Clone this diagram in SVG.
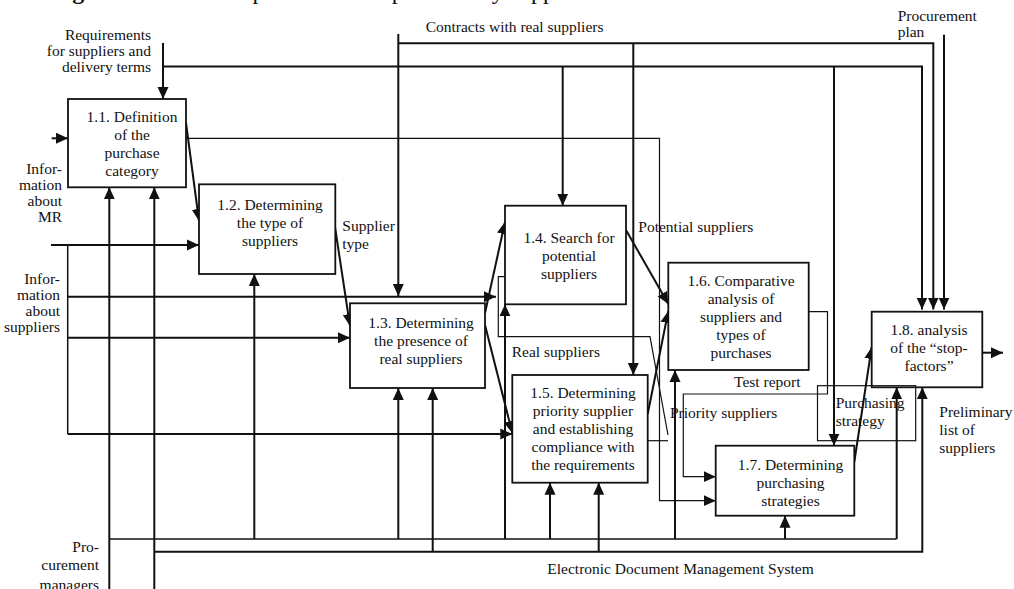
<svg xmlns="http://www.w3.org/2000/svg" width="1014" height="589" viewBox="0 0 1014 589">
  <style>
    text { font-family: "Liberation Serif", "Times New Roman", serif; font-size: 15.5px; fill: #111; }
    .mid { text-anchor: middle; }
    .end { text-anchor: end; }
    .box { fill: #fff; stroke: #111; stroke-width: 1.8; }
    .frame { fill: none; stroke: #111; stroke-width: 1.2; }
    .thick { fill: none; stroke: #111; stroke-width: 2; }
    .mid-w { fill: none; stroke: #111; stroke-width: 1.5; }
    .thin { fill: none; stroke: #111; stroke-width: 1.2; }
    .title { font-size: 24px; }
  </style>
  <defs>
    <marker id="ah" viewBox="0 0 12 12" refX="12" refY="6" markerWidth="12" markerHeight="12" markerUnits="userSpaceOnUse" orient="auto">
      <path d="M0,0.5 L12,6 L0,11.5 z" fill="#111"/>
    </marker>
  </defs>
  <rect width="1014" height="589" fill="#fff"/>

  <!-- caption line, cut by the top edge -->
  <text class="title" x="51" y="-1"><tspan font-weight="bold">Figure 6.</tspan> Model the process of the preliminary supplier assessment</text>

  <!-- connectors -->
  <g id="connectors">
    <!-- controls from the top -->
    <path class="thick" d="M163,43 V99" marker-end="url(#ah)"/>
    <path class="thick" d="M163,66.5 H922 V309.5" marker-end="url(#ah)"/>
    <path class="thick" d="M562.7,66.5 V205.7" marker-end="url(#ah)"/>
    <path class="thick" d="M834,66.5 V445.7" marker-end="url(#ah)"/>
    <path class="thick" d="M398.3,34 V296" marker-end="url(#ah)"/>
    <path class="thick" d="M398.3,43.3 H933.3 V309.5" marker-end="url(#ah)"/>
    <path class="thick" d="M633.3,43.3 V375" marker-end="url(#ah)"/>
    <path class="thick" d="M944,34.7 V309.5" marker-end="url(#ah)"/>

    <!-- inputs from the left -->
    <path class="thick" d="M51.7,138.3 H68" marker-end="url(#ah)"/>
    <path class="thick" d="M51,245 H199" marker-end="url(#ah)"/>
    <path class="mid-w" d="M67.7,245 V434"/>
    <path class="thick" d="M67.7,296.7 H496" marker-end="url(#ah)"/>
    <path class="thick" d="M67.7,337.7 H350" marker-end="url(#ah)"/>
    <path class="thick" d="M67.7,434 H512.3" marker-end="url(#ah)"/>

    <!-- flows between blocks -->
    <path class="thick" d="M186,123 L199,221" marker-end="url(#ah)"/>
    <path class="thick" d="M335,227 L350,326" marker-end="url(#ah)"/>
    <path class="thick" d="M485,313 L505,222" marker-end="url(#ah)"/>
    <path class="thick" d="M485,325 L512.3,433" marker-end="url(#ah)"/>
    <path class="thick" d="M626,230 L668.3,304" marker-end="url(#ah)"/>
    <path class="thick" d="M647.7,414 L668.3,311" marker-end="url(#ah)"/>
    <path class="thick" d="M854.3,462 L871.7,347" marker-end="url(#ah)"/>
    <path class="thick" d="M982.3,352.7 H1003" marker-end="url(#ah)"/>

    <!-- purchase category to block 1.7 -->
    <path class="thin" d="M186,138.3 H659.5 V500.7 H715.7" marker-end="url(#ah)"/>
    <!-- test report to block 1.7 -->
    <path class="thin" d="M809,311.7 H827.5 V394 H683.3 V476.7 H715.7" marker-end="url(#ah)"/>
    <!-- real suppliers fed back to block 1.4 -->
    <path class="thin" d="M647.7,440.7 H668"/>
    <path class="thin" d="M668,435 L650,336.7 H498.3 V276.7 H519" marker-end="url(#ah)"/>

    <!-- mechanisms from the bottom -->
    <path class="thick" d="M109.3,589 V187.3" marker-end="url(#ah)"/>
    <path class="thick" d="M154.3,589 V187.3" marker-end="url(#ah)"/>
    <path class="mid-w" d="M109.3,539 H896.7"/>
    <path class="thick" d="M896.7,539 V387.3" marker-end="url(#ah)"/>
    <path class="thick" d="M154.3,551.7 H922.3 V387.3" marker-end="url(#ah)"/>
    <path class="thick" d="M254.3,539 V274" marker-end="url(#ah)"/>
    <path class="thick" d="M398.3,539 V388" marker-end="url(#ah)"/>
    <path class="thick" d="M432.7,551.7 V388" marker-end="url(#ah)"/>
    <path class="thick" d="M505,539 V304.3" marker-end="url(#ah)"/>
    <path class="thick" d="M550,539 V482.7" marker-end="url(#ah)"/>
    <path class="thick" d="M598.7,551.7 V482.7" marker-end="url(#ah)"/>
    <path class="thick" d="M675,539 V370" marker-end="url(#ah)"/>
    <path class="thick" d="M785,539 V515.7" marker-end="url(#ah)"/>
  </g>

  <!-- blocks -->
  <g id="n11">
    <rect class="box" x="68" y="99" width="118" height="88.3"/>
    <text class="mid" x="132" y="122.4">1.1. Definition</text>
    <text class="mid" x="132" y="140.4">of the</text>
    <text class="mid" x="132" y="158.4">purchase</text>
    <text class="mid" x="132" y="176.4">category</text>
  </g>
  <g id="n12">
    <rect class="box" x="199" y="184.3" width="136.3" height="89.7"/>
    <text class="mid" x="270" y="210">1.2. Determining</text>
    <text class="mid" x="270" y="228">the type of</text>
    <text class="mid" x="270" y="246">suppliers</text>
  </g>
  <g id="n13">
    <rect class="box" x="350" y="303.3" width="135" height="84.7"/>
    <text class="mid" x="421" y="328">1.3. Determining</text>
    <text class="mid" x="421" y="346">the presence of</text>
    <text class="mid" x="421" y="364">real suppliers</text>
  </g>
  <g id="n14">
    <rect class="box" x="505" y="205.7" width="121" height="98.6"/>
    <text class="mid" x="569" y="242.7">1.4. Search for</text>
    <text class="mid" x="569" y="260.7">potential</text>
    <text class="mid" x="569" y="278.7">suppliers</text>
  </g>
  <g id="n15">
    <rect class="box" x="512.3" y="375" width="135.4" height="107.7"/>
    <text class="mid" x="583" y="398.3">1.5. Determining</text>
    <text class="mid" x="583" y="416.3">priority supplier</text>
    <text class="mid" x="583" y="434.3">and establishing</text>
    <text class="mid" x="583" y="452.3">compliance with</text>
    <text class="mid" x="583" y="470.3">the requirements</text>
  </g>
  <g id="n16">
    <rect class="box" x="668.3" y="262.7" width="140.4" height="107.3"/>
    <text class="mid" x="741" y="286">1.6. Comparative</text>
    <text class="mid" x="741" y="304">analysis of</text>
    <text class="mid" x="741" y="322">suppliers and</text>
    <text class="mid" x="741" y="340">types of</text>
    <text class="mid" x="741" y="358">purchases</text>
  </g>
  <g id="n17">
    <rect class="box" x="715.7" y="445.7" width="138.6" height="70"/>
    <text class="mid" x="790.5" y="470">1.7. Determining</text>
    <text class="mid" x="790.5" y="488">purchasing</text>
    <text class="mid" x="790.5" y="506">strategies</text>
  </g>
  <g id="n18">
    <rect class="box" x="871.7" y="311.7" width="110.6" height="75.6"/>
    <text class="mid" x="929" y="335">1.8. analysis</text>
    <text class="mid" x="929" y="353">of the “stop-</text>
    <text class="mid" x="929" y="371">factors”</text>
  </g>
  <g id="purchasing-strategy">
    <rect class="frame" x="817.5" y="385.7" width="98.2" height="55"/>
    <text x="835.7" y="408.3">Purchasing</text>
    <text x="835.7" y="426">strategy</text>
  </g>

  <!-- arrow labels -->
  <g id="labels">
    <text class="end" x="151" y="40">Requirements</text>
    <text class="end" x="151" y="56">for suppliers and</text>
    <text class="end" x="151" y="72">delivery terms</text>
    <text x="425.7" y="31.5">Contracts with real suppliers</text>
    <text x="897.7" y="20.5">Procurement</text>
    <text x="897.7" y="36.5">plan</text>
    <text class="end" x="62" y="173.5">Infor-</text>
    <text class="end" x="62" y="189.5">mation</text>
    <text class="end" x="62" y="205.5">about</text>
    <text class="end" x="62" y="221.5">MR</text>
    <text class="end" x="60" y="284.3">Infor-</text>
    <text class="end" x="60" y="300">mation</text>
    <text class="end" x="60" y="315.8">about</text>
    <text class="end" x="60" y="331.6">suppliers</text>
    <text x="342.3" y="231">Supplier</text>
    <text x="342.3" y="248.5">type</text>
    <text x="638.3" y="232.3">Potential suppliers</text>
    <text x="511.7" y="356.7">Real suppliers</text>
    <text x="734" y="386.7">Test report</text>
    <text x="670" y="417.7">Priority suppliers</text>
    <text x="939.3" y="417.3">Preliminary</text>
    <text x="939.3" y="435">list of</text>
    <text x="939.3" y="453">suppliers</text>
    <text x="547.3" y="574">Electronic Document Management System</text>
    <text class="end" x="99" y="552">Pro-</text>
    <text class="end" x="99" y="570">curement</text>
    <text class="end" x="99" y="590">managers</text>
  </g>
</svg>
